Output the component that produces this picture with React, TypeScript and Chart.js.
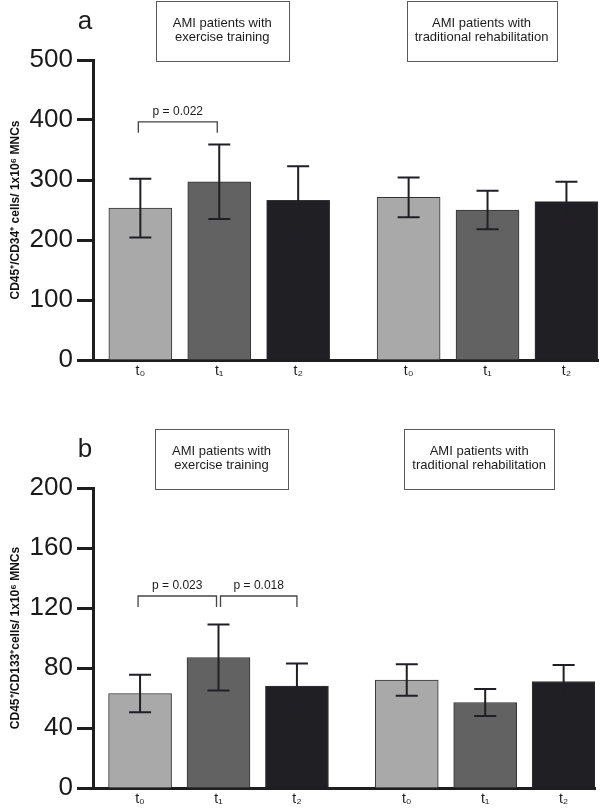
import React, { useEffect, useRef } from 'react';
import { Chart, registerables } from 'chart.js';

Chart.register(...registerables);

// ---------- data ----------
const timeLabels = ['t₀', 't₁', 't₂', 't₀', 't₁', 't₂'];
const groupNames = [
  ['AMI patients with', 'exercise training'],
  ['AMI patients with', 'traditional rehabilitation'],
];
const cd34Means = [253, 297, 266, 271, 250, 264];
const cd34Errors = [49, 62, 57, 33, 32, 33];
const cd34Ticks = [0, 100, 200, 300, 400, 500];
const cd34PValues = [{ from: 0, to: 1, text: 'p = 0.022' }];

const cd133Means = [63, 87, 68, 72, 57, 71];
const cd133Errors = [12.5, 22, 15, 10.5, 9, 11];
const cd133Ticks = [0, 40, 80, 120, 160, 200];
const cd133PValues = [
  { from: 0, to: 1, text: 'p = 0.023' },
  { from: 1, to: 2, text: 'p = 0.018' },
];

// ---------- styling / layout ----------
const FAMILY = "'Liberation Sans', Arial, Helvetica, sans-serif";
const DARK = '#201f24';
const barColors = ['#a9a9a9', '#626262', DARK, '#a9a9a9', '#626262', DARK];
const GROUP_GAP = 0.4;
const X_OFFSET = 0.6;
const xPositions = timeLabels.map((_, i) => X_OFFSET + i + (i >= 3 ? GROUP_GAP : 0));
const boxWidths = [133, 150];
const boxShift = [3, -6];

type PVal = { from: number; to: number; text: string };

interface PanelProps {
  letter: string;
  means: number[];
  errors: number[];
  ticks: number[];
  yTitle: string;
  pvals: PVal[];
  bracketLevel: number;
  legDrop: number;
  width: number;
  height: number;
  padTop: number;
  padRight: number;
  xHeight: number;
}

function Panel(props: PanelProps) {
  const ref = useRef<HTMLCanvasElement | null>(null);
  useEffect(() => {
    if (!ref.current) return;
    const { means, errors, ticks, yTitle, pvals, bracketLevel, legDrop, letter } = props;

    const overlay = {
      id: 'overlay',
      afterDatasetsDraw(chart: any) {
        const ctx = chart.ctx as CanvasRenderingContext2D;
        const xs = chart.scales.x;
        const ys = chart.scales.y;
        const area = chart.chartArea;
        const meta = chart.getDatasetMeta(0);
        ctx.save();
        // error bars
        ctx.strokeStyle = DARK;
        ctx.lineWidth = 2;
        meta.data.forEach((el: any, i: number) => {
          const x = el.x;
          const yT = ys.getPixelForValue(means[i] + errors[i]);
          const yB = ys.getPixelForValue(means[i] - errors[i]);
          ctx.beginPath();
          ctx.moveTo(x, yT);
          ctx.lineTo(x, yB);
          ctx.moveTo(x - 11, yT);
          ctx.lineTo(x + 11, yT);
          ctx.moveTo(x - 11, yB);
          ctx.lineTo(x + 11, yB);
          ctx.stroke();
        });
        // significance brackets
        ctx.strokeStyle = '#444';
        ctx.lineWidth = 1.3;
        ctx.fillStyle = '#1c1c1c';
        ctx.font = `12px ${FAMILY}`;
        ctx.textAlign = 'center';
        ctx.textBaseline = 'middle';
        const yb = ys.getPixelForValue(bracketLevel);
        pvals.forEach((p, k) => {
          const x1 = xs.getPixelForValue(xPositions[p.from]) + (k > 0 ? 2 : -2);
          const x2 = xs.getPixelForValue(xPositions[p.to]) - (k > 0 ? 0 : 2);
          ctx.beginPath();
          ctx.moveTo(x1, yb + legDrop);
          ctx.lineTo(x1, yb);
          ctx.lineTo(x2, yb);
          ctx.lineTo(x2, yb + legDrop);
          ctx.stroke();
          ctx.fillText(p.text, (x1 + x2) / 2, yb - 10);
        });
        // group boxes
        groupNames.forEach((lines, g) => {
          const cx = xs.getPixelForValue(xPositions[g * 3 + 1]) + boxShift[g];
          const w = boxWidths[g];
          const top = area.top - 59;
          ctx.strokeStyle = '#5a5a5a';
          ctx.lineWidth = 1;
          ctx.strokeRect(Math.round(cx - w / 2) + 0.5, top + 0.5, w, 60);
          ctx.fillStyle = '#1c1c1c';
          ctx.font = `13px ${FAMILY}`;
          ctx.fillText(lines[0], cx, top + 22);
          ctx.fillText(lines[1], cx, top + 36);
        });
        // panel letter
        ctx.font = `26px ${FAMILY}`;
        ctx.textBaseline = 'alphabetic';
        ctx.fillStyle = '#1c1c1c';
        ctx.fillText(letter, area.left - 8, area.top - 31);
        ctx.restore();
      },
    };

    const chart = new Chart(ref.current, {
      type: 'bar',
      data: {
        datasets: [
          {
            data: means.map((v, i) => ({ x: xPositions[i], y: v })),
            backgroundColor: barColors,
            borderColor: '#333',
            borderWidth: 1,
            barThickness: 63,
          } as any,
        ],
      },
      options: {
        responsive: false,
        animation: false,
        events: [],
        layout: { padding: { top: props.padTop, right: props.padRight, left: 0, bottom: 0 } },
        plugins: { legend: { display: false }, tooltip: { enabled: false } },
        scales: {
          x: {
            type: 'linear',
            min: 0,
            max: 6.4,
            offset: false,
            afterBuildTicks: (s: any) => {
              s.ticks = xPositions.map((v) => ({ value: v }));
            },
            afterFit: (s: any) => {
              s.height = props.xHeight;
            },
            ticks: {
              callback: (_v: any, i: number) => timeLabels[i],
              font: { size: 14, family: FAMILY },
              color: '#1c1c1c',
              padding: 3,
              maxRotation: 0,
              autoSkip: false,
            },
            grid: { display: false, drawTicks: false },
            border: { display: true, width: 3, color: '#1e1e1e' },
          },
          y: {
            min: ticks[0],
            max: ticks[ticks.length - 1],
            afterBuildTicks: (s: any) => {
              s.ticks = ticks.map((v) => ({ value: v }));
            },
            afterFit: (s: any) => {
              s.width = 93;
            },
            ticks: { font: { size: 26, family: FAMILY }, color: '#1a1a1a', padding: 4 },
            grid: {
              drawOnChartArea: false,
              drawTicks: true,
              tickLength: 16,
              tickWidth: 3,
              tickColor: '#1e1e1e',
            },
            border: { display: true, width: 3, color: '#1e1e1e' },
            title: {
              display: true,
              text: yTitle,
              font: { size: 12, weight: 'bold', family: FAMILY },
              color: '#111',
              padding: { top: 8, bottom: 0 },
            },
          },
        },
      } as any,
      plugins: [overlay],
    });
    return () => chart.destroy();
  }, []);
  return (
    <canvas
      ref={ref}
      width={props.width}
      height={props.height}
      style={{ display: 'block', width: props.width, height: props.height }}
    />
  );
}

export default function App() {
  return (
    <div style={{ position: 'absolute', left: 0, top: 0, width: 600, height: 812, background: '#fff' }}>
      <Panel
        letter="a"
        means={cd34Means}
        errors={cd34Errors}
        ticks={cd34Ticks}
        yTitle="CD45⁺/CD34⁺ cells/ 1x10⁶ MNCs"
        pvals={cd34PValues}
        bracketLevel={397}
        legDrop={11}
        width={600}
        height={400}
        padTop={60}
        padRight={2}
        xHeight={40}
      />
      <Panel
        letter="b"
        means={cd133Means}
        errors={cd133Errors}
        ticks={cd133Ticks}
        yTitle="CD45⁺/CD133⁺cells/ 1x10⁶ MNCs"
        pvals={cd133PValues}
        bracketLevel={128}
        legDrop={11}
        width={600}
        height={412}
        padTop={88}
        padRight={5}
        xHeight={24}
      />
    </div>
  );
}
